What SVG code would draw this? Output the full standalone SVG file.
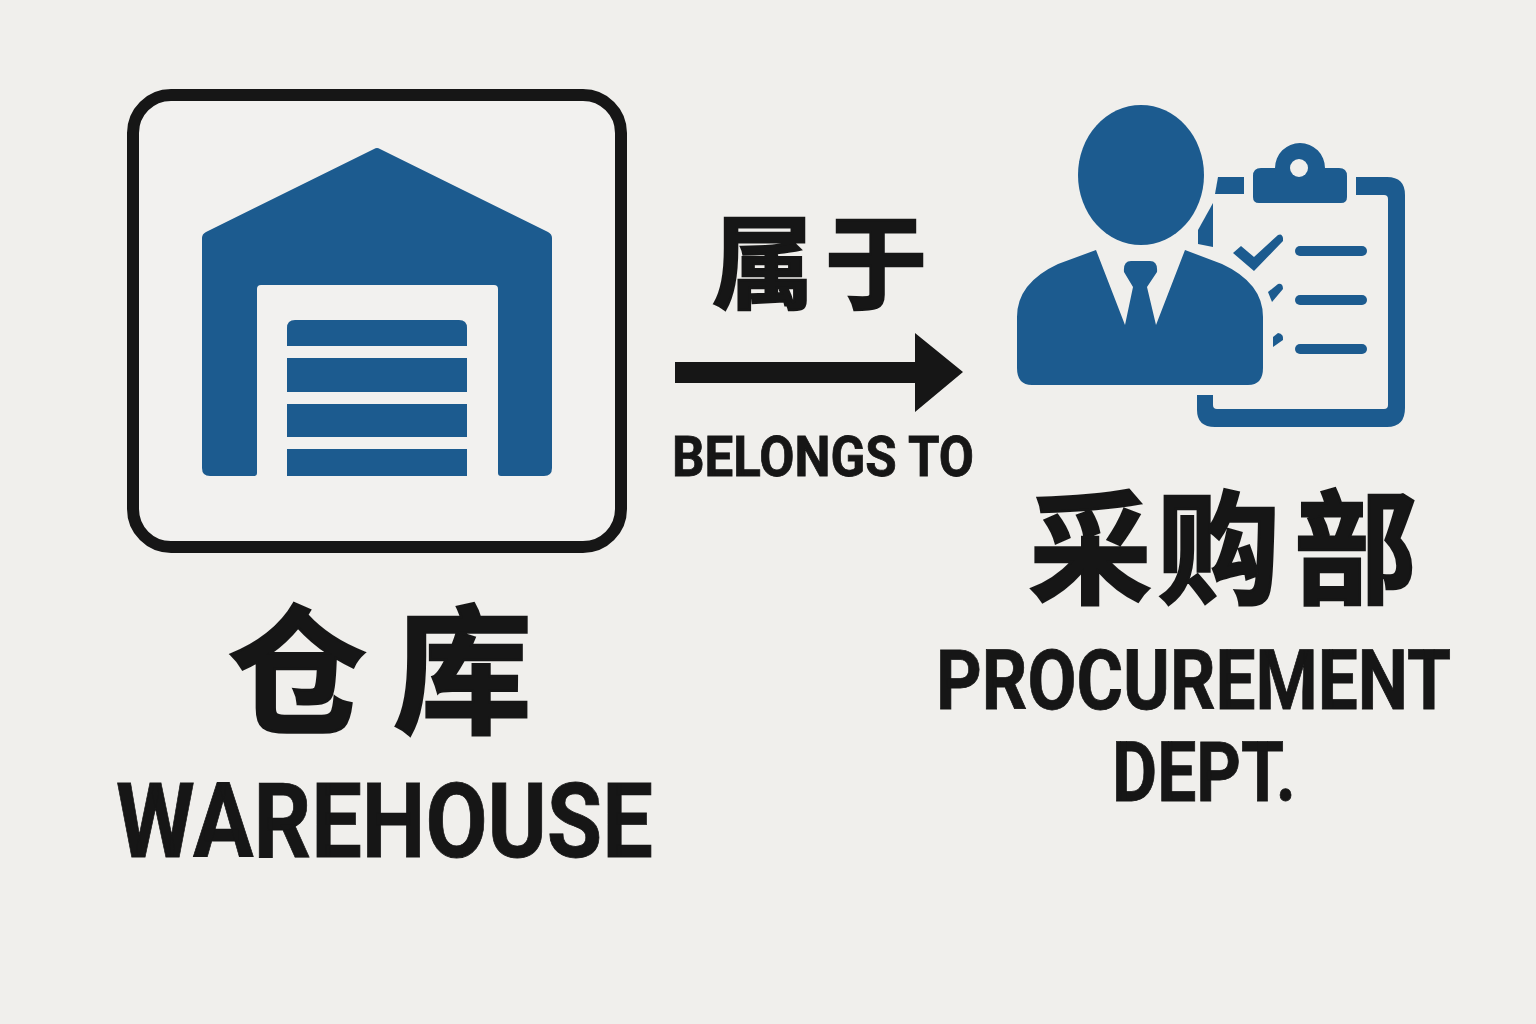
<svg xmlns="http://www.w3.org/2000/svg" width="1536" height="1024" viewBox="0 0 1536 1024">
<style>
.b{fill:#1c5b8f}
.k{fill:#161616}
.cjk{font-family:"Noto Sans CJK SC","Noto Sans",sans-serif;font-weight:700;fill:#161616;stroke:#161616;stroke-width:2.5}
.en{font-family:"Roboto","Liberation Sans",sans-serif;font-weight:700;fill:#161616;stroke:#161616;stroke-width:.8}
</style>
<rect width="1536" height="1024" fill="#f0efec"/>
<g id="warehouse">
<rect x="133" y="95" width="488" height="452" rx="38" fill="#f2f1ef" stroke="#161616" stroke-width="12"/>
<path class="b" d="M202 238Q202 234 206 232L374 149Q377 147 380 149L548 232Q552 234 552 238V468Q552 476 544 476H501Q498 476 498 473V289Q498 285 494 285H261Q257 285 257 289V473Q257 476 254 476H210Q202 476 202 468Z"/>
<path class="b" d="M287 346V328Q287 320 295 320H459Q467 320 467 328V346Z"/>
<rect class="b" x="287" y="358" width="180" height="34"/>
<rect class="b" x="287" y="404" width="180" height="33"/>
<rect class="b" x="287" y="449" width="180" height="27"/>
<text class="cjk" x="228 393" y="722" font-size="139">仓库</text>
<text class="en" x="116" y="857" font-size="104" textLength="537" lengthAdjust="spacingAndGlyphs">WAREHOUSE</text>
</g>
<g id="connector">
<path class="k" d="M675 362H915V333L963 372L915 412V383H675Z"/>
<text class="cjk" x="712 825" y="301" font-size="102">属于</text>
<text class="en" x="672" y="476" font-size="56" textLength="302" lengthAdjust="spacingAndGlyphs">BELONGS TO</text>
</g>
<g id="procurement">
<path class="b" d="M1218 177H1244V194H1215Z"/>
<path class="b" d="M1213 203L1198 230V244L1213 247Z"/>
<path class="b" d="M1356 177H1387Q1405 177 1405 195V408Q1405 427 1387 427H1215Q1197 427 1197 410V395H1213V405Q1213 409 1217 409H1384Q1388 409 1388 405V199Q1388 195 1384 195H1356Z"/>
<path class="b" d="M1253 176Q1253 168 1261 168H1275A25 25 0 0 1 1325 168H1339Q1347 168 1347 176V197Q1347 203 1341 203H1259Q1253 203 1253 197Z"/>
<circle cx="1299" cy="168" r="9" fill="#f0efec"/>
<path class="b" d="M1233 253L1241 246L1254 257L1278 235Q1282 233 1283 238V241L1254 271Z"/>
<path class="b" d="M1268 292L1278 284Q1283 283 1283 289L1272 302Z"/>
<path class="b" d="M1273 337L1278 333Q1284 334 1283 340L1273 347Z"/>
<rect class="b" x="1295" y="246" width="72" height="10" rx="5"/>
<rect class="b" x="1295" y="295" width="72" height="10" rx="5"/>
<rect class="b" x="1295" y="344" width="72" height="10" rx="5"/>
<ellipse class="b" cx="1141" cy="175" rx="63" ry="70"/>
<path class="b" d="M1096 250L1125 325L1133 287L1124 272Q1123 261 1131 261H1150Q1158 261 1157 272L1147 287L1156 325L1185 250L1222 264Q1263 283 1263 317V368Q1263 385 1248 385H1032Q1017 385 1017 368V317Q1017 283 1058 264Z"/>
<text class="cjk" x="1029 1157 1294" y="594" font-size="123">采购部</text>
<text class="en" x="936" y="709" font-size="84" textLength="515" lengthAdjust="spacingAndGlyphs">PROCUREMENT</text>
<text class="en" x="1112" y="801" font-size="84" textLength="184" lengthAdjust="spacingAndGlyphs">DEPT.</text>
</g>
</svg>
